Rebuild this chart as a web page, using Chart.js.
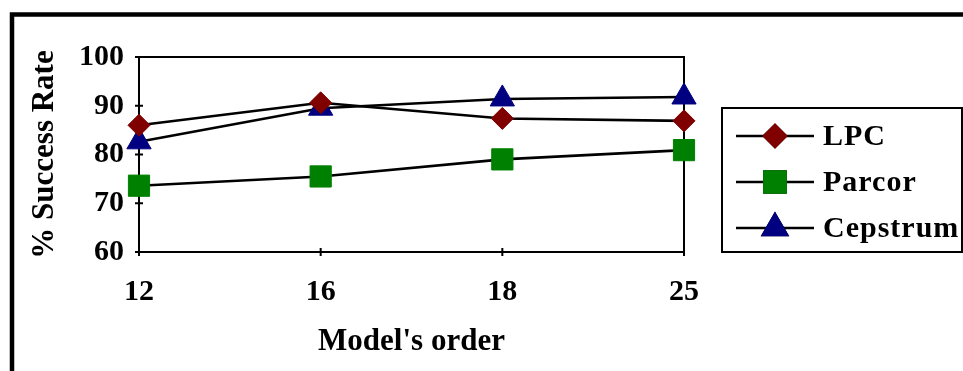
<!DOCTYPE html>
<html>
<head>
<meta charset="utf-8">
<script src="https://cdn.jsdelivr.net/npm/chart.js@4/dist/chart.umd.min.js"></script>
<style>
  html, body { margin: 0; padding: 0; background: #fff; }
  #wrap { width: 963px; height: 371px; }
</style>
</head>
<body>
<div id="wrap"><canvas id="line-chart" aria-label="line chart" role="img"></canvas></div>
<script>
let orders = ['12', '16', '18', '25'];
let lpc = [86, 90.6, 87.4, 86.9];
let parcor = [73.6, 75.5, 79, 80.9];
let cepstrum = [82.6, 89.5, 91.4, 91.8];
let yTicks = [60, 70, 80, 90, 100];

let font = { family: '"Liberation Serif", "Times New Roman", serif', size: 30, weight: 'bold' };
let titleFont = { family: '"Liberation Serif", "Times New Roman", serif', size: 31, weight: 'bold' };

// thick outer frame, plot border and crossing tick marks
let framePlugin = {
  id: 'frame',
  beforeDraw(chart) {
    let ctx = chart.ctx;
    ctx.save();
    ctx.fillStyle = '#fff';
    ctx.fillRect(0, 0, chart.width, chart.height);
    ctx.strokeStyle = '#000';
    ctx.lineWidth = 4.5;
    ctx.beginPath();
    ctx.moveTo(12, 400);
    ctx.lineTo(12, 14.5);
    ctx.lineTo(1000, 14.5);
    ctx.stroke();
    ctx.restore();
  },
  beforeDatasetsDraw(chart) {
    let ctx = chart.ctx;
    let a = chart.chartArea;
    let x = chart.scales.x;
    let y = chart.scales.y;
    ctx.save();
    ctx.strokeStyle = '#000';
    ctx.lineWidth = 2;
    ctx.strokeRect(a.left, a.top, a.right - a.left, a.bottom - a.top);
    ctx.beginPath();
    yTicks.forEach(v => {
      let py = y.getPixelForValue(v);
      ctx.moveTo(a.left - 4, py);
      ctx.lineTo(a.left + 4, py);
    });
    orders.forEach((o, i) => {
      let px = x.getPixelForValue(i);
      ctx.moveTo(px, a.bottom - 4);
      ctx.lineTo(px, a.bottom + 4);
    });
    ctx.stroke();
    ctx.restore();
  },
  afterDraw(chart) {
    // legend box
    let ctx = chart.ctx;
    ctx.save();
    ctx.strokeStyle = '#000';
    ctx.lineWidth = 2;
    ctx.strokeRect(722, 108, 240, 144);
    let rows = [136, 182, 228];
    chart.data.datasets.forEach((ds, i) => {
      let ry = rows[i];
      ctx.strokeStyle = '#000';
      ctx.lineWidth = 2.5;
      ctx.beginPath();
      ctx.moveTo(736, ry);
      ctx.lineTo(814, ry);
      ctx.stroke();
      Chart.helpers.drawPoint(ctx, {
        pointStyle: ds.pointStyle,
        radius: ds.pointRadius,
        rotation: 0,
        borderWidth: 1
      }, 775, ry);
      ctx.fillStyle = ds.pointBackgroundColor;
      ctx.strokeStyle = ds.pointBorderColor;
      ctx.fill();
      ctx.stroke();
      ctx.fillStyle = '#000';
      ctx.font = 'bold 30px "Liberation Serif", serif';
      ctx.letterSpacing = '1px';
      ctx.textBaseline = 'middle';
      ctx.fillText(ds.label, 823, ry + 1);
      ctx.letterSpacing = '0px';
    });
    ctx.restore();
  }
};

let makeSet = (label, data, color, style, r) => ({
  label: label,
  data: data,
  borderColor: '#000',
  borderWidth: 2.6,
  pointStyle: style,
  pointRadius: r,
  pointHoverRadius: r,
  pointBackgroundColor: color,
  pointBorderColor: color,
  pointBorderWidth: 1,
  tension: 0,
  clip: false
});

new Chart(document.getElementById('line-chart'), {
  type: 'line',
  data: {
    labels: orders,
    datasets: [
      makeSet('LPC', lpc, '#800000', 'rectRot', 11),
      makeSet('Parcor', parcor, '#008000', 'rect', 15),
      makeSet('Cepstrum', cepstrum, '#000080', 'triangle', 14)
    ]
  },
  options: {
    responsive: true,
    maintainAspectRatio: false,
    animation: false,
    layout: { padding: { left: 22, top: 57, right: 279, bottom: 6 } },
    plugins: { legend: { display: false }, tooltip: { enabled: false } },
    scales: {
      x: {
        offset: false,
        grid: { display: false, drawTicks: false },
        border: { display: false },
        ticks: { color: '#000', font: font, padding: 22, maxRotation: 0 },
        title: { display: true, text: "Model's order", color: '#000', font: titleFont, padding: 4 },
        afterFit(s) { s.height = 371 - 252 - 6; }
      },
      y: {
        min: 60,
        max: 100,
        grid: { display: false, drawTicks: false },
        border: { display: false },
        ticks: { stepSize: 10, color: '#000', font: font, padding: 15 },
        title: { display: true, text: '% Success Rate', color: '#000', font: titleFont, padding: 4 },
        afterFit(s) { s.width = 139 - 22; }
      }
    }
  },
  plugins: [framePlugin]
});
</script>
</body>
</html>
